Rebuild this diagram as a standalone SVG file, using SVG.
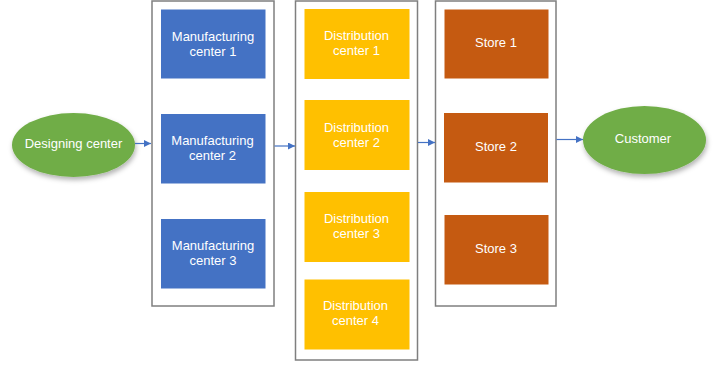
<svg xmlns="http://www.w3.org/2000/svg" width="726" height="365" viewBox="0 0 726 365">
  <defs>
    <marker id="arrow" viewBox="0 0 10 10" refX="10" refY="5" markerWidth="7" markerHeight="7" markerUnits="userSpaceOnUse" orient="auto">
      <path d="M0,0 L10,5 L0,10 z" fill="#4472C4"/>
    </marker>
    <filter id="shadow" x="-20%" y="-20%" width="140%" height="150%">
      <feDropShadow dx="1" dy="3" stdDeviation="2.5" flood-color="#000" flood-opacity="0.3"/>
    </filter>
    <style>
      .frame { fill: #fff; stroke: #7f7f7f; stroke-width: 1.5; }
      .mfg { fill: #4472C4; }
      .dist { fill: #FFC000; }
      .store { fill: #C55A11; }
      .oval { fill: #70AD47; filter: url(#shadow); }
      .label { font-family: "Liberation Sans", Arial, sans-serif; font-size: 13px; fill: #fff; text-anchor: middle; }
      .link { stroke: #4472C4; stroke-width: 1.2; fill: none; marker-end: url(#arrow); }
    </style>
  </defs>
  <rect width="726" height="365" fill="#fff"/>

  <!-- group frames -->
  <g id="manufacturing-group">
    <rect class="frame" x="152" y="1" width="122" height="305"/>
  </g>
  <g id="distribution-group">
    <rect class="frame" x="295.5" y="1" width="122" height="359"/>
  </g>
  <g id="store-group">
    <rect class="frame" x="435.5" y="1" width="120.5" height="305"/>
  </g>

  <!-- end points -->
  <g id="designing-center">
    <ellipse class="oval" cx="73.5" cy="145" rx="61.5" ry="32"/>
    <text class="label" x="73.5" y="148">Designing center</text>
  </g>
  <g id="customer">
    <ellipse class="oval" cx="644.5" cy="140" rx="61.5" ry="34"/>
    <text class="label" x="643" y="143">Customer</text>
  </g>

  <!-- manufacturing centers -->
  <g id="manufacturing-center-1">
    <rect class="mfg" x="161" y="9.5" width="104.5" height="69"/>
    <text class="label" x="213" y="40.5">Manufacturing<tspan x="213" dy="15">center 1</tspan></text>
  </g>
  <g id="manufacturing-center-2">
    <rect class="mfg" x="161" y="114" width="104.5" height="69.5"/>
    <text class="label" x="212.5" y="145">Manufacturing<tspan x="212.5" dy="15">center 2</tspan></text>
  </g>
  <g id="manufacturing-center-3">
    <rect class="mfg" x="161" y="219" width="104.5" height="69.5"/>
    <text class="label" x="213" y="249.5">Manufacturing<tspan x="213" dy="15">center 3</tspan></text>
  </g>

  <!-- distribution centers -->
  <g id="distribution-center-1">
    <rect class="dist" x="304.5" y="9" width="105" height="70"/>
    <text class="label" x="356.5" y="40">Distribution<tspan x="356.5" dy="15">center 1</tspan></text>
  </g>
  <g id="distribution-center-2">
    <rect class="dist" x="304.5" y="100" width="105" height="70"/>
    <text class="label" x="356.5" y="132">Distribution<tspan x="356.5" dy="15">center 2</tspan></text>
  </g>
  <g id="distribution-center-3">
    <rect class="dist" x="304.5" y="192" width="105" height="70"/>
    <text class="label" x="356.5" y="223">Distribution<tspan x="356.5" dy="15">center 3</tspan></text>
  </g>
  <g id="distribution-center-4">
    <rect class="dist" x="304.5" y="279.5" width="105" height="70"/>
    <text class="label" x="355.5" y="309.5">Distribution<tspan x="355.5" dy="15.5">center 4</tspan></text>
  </g>

  <!-- stores -->
  <g id="store-1">
    <rect class="store" x="444.5" y="9.5" width="104" height="69"/>
    <text class="label" x="496" y="47">Store 1</text>
  </g>
  <g id="store-2">
    <rect class="store" x="444" y="113" width="104" height="69.5"/>
    <text class="label" x="496" y="150.5">Store 2</text>
  </g>
  <g id="store-3">
    <rect class="store" x="444.5" y="215" width="104" height="69.5"/>
    <text class="label" x="496" y="253">Store 3</text>
  </g>

  <!-- connectors -->
  <g id="connectors">
    <line class="link" x1="135" y1="143.5" x2="151" y2="143.5"/>
    <line class="link" x1="274.5" y1="146" x2="295" y2="146"/>
    <line class="link" x1="418" y1="142.5" x2="435" y2="142.5"/>
    <line class="link" x1="556.5" y1="139.5" x2="583" y2="139.5"/>
  </g>
</svg>
